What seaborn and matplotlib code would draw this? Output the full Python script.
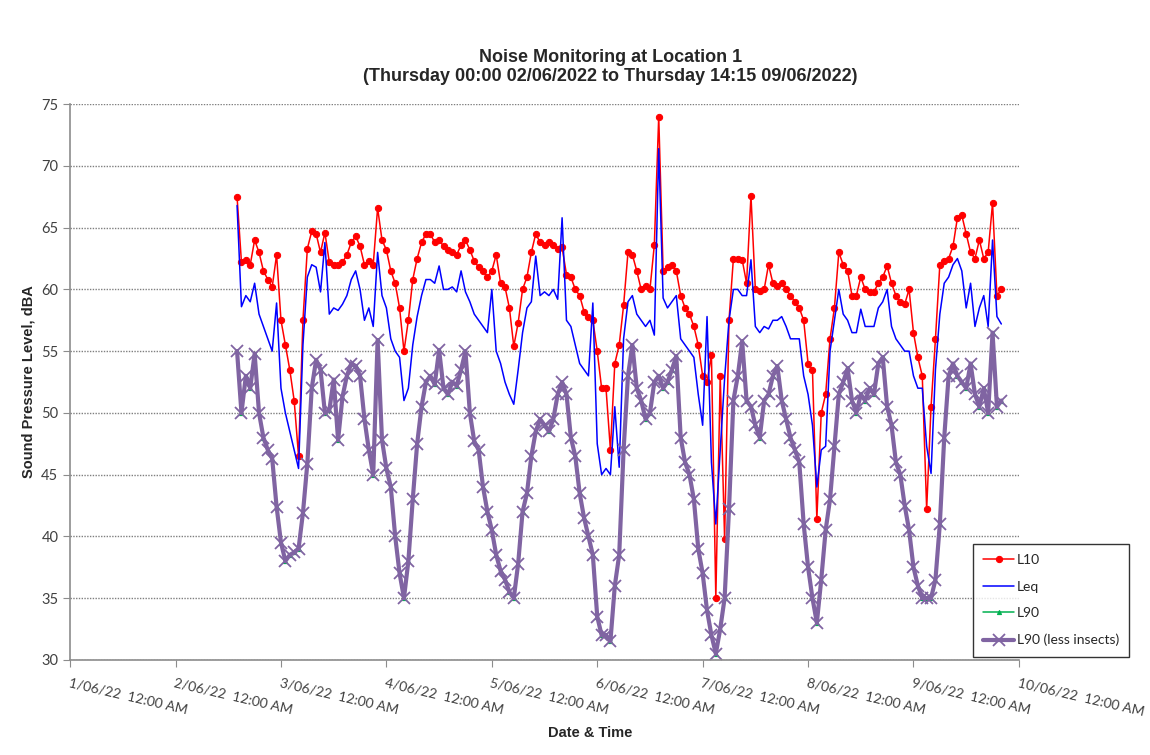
import pandas as pd
import matplotlib.pyplot as plt
import seaborn as sns

# hourly readings, 2/06 14:00 onwards
start_time = '2022-06-02 14:00'

l10 = [67.5, 62.2, 62.4, 62.0, 64.0, 63.0, 61.5, 60.8, 60.2, 62.8,
       57.5, 55.5, 53.5, 51.0, 46.5, 57.5, 63.3, 64.7, 64.5, 63.0,
       64.6, 62.2, 62.0, 62.0, 62.2, 62.8, 63.8, 64.3, 63.5, 62.0,
       62.3, 62.0, 66.6, 64.0, 63.2, 61.5, 60.5, 58.5, 55.0, 57.5,
       60.8, 62.5, 63.8, 64.5, 64.5, 63.8, 64.0, 63.5, 63.2, 63.0,
       62.8, 63.6, 64.0, 63.2, 62.3, 61.8, 61.5, 61.0, 61.5, 62.8,
       60.5, 60.2, 58.5, 55.4, 57.3, 60.0, 61.0, 63.0, 64.5, 63.8,
       63.6, 63.8, 63.6, 63.3, 63.4, 61.2, 61.0, 60.0, 59.5, 58.2,
       57.8, 57.5, 55.0, 52.0, 52.0, 47.0, 54.0, 55.5, 58.7, 63.0,
       62.8, 61.5, 60.0, 60.3, 60.0, 63.6, 74.0, 61.5, 61.8, 62.0,
       61.5, 59.5, 58.5, 58.0, 57.0, 55.5, 53.0, 52.5, 54.7, 35.0,
       53.0, 39.8, 57.5, 62.5, 62.5, 62.4, 60.5, 67.6, 60.0, 59.9,
       60.0, 62.0, 60.5, 60.3, 60.5, 60.0, 59.5, 59.0, 58.5, 57.5,
       54.0, 53.5, 41.4, 50.0, 51.5, 56.0, 58.5, 63.0, 62.0, 61.5,
       59.5, 59.5, 61.0, 60.0, 59.8, 59.8, 60.5, 61.0, 61.9, 60.5,
       59.5, 59.0, 58.8, 60.0, 56.5, 54.5, 53.0, 42.2, 50.5, 56.0,
       62.0, 62.3, 62.5, 63.5, 65.8, 66.0, 64.5, 63.0, 62.5, 64.0,
       62.5, 63.0, 67.0, 59.5, 60.0]

leq = [66.8, 58.6, 59.5, 59.0, 60.5, 58.0, 57.0, 56.0, 55.0, 58.9,
       52.0, 50.0, 48.5, 47.0, 45.5, 55.5, 61.0, 62.0, 61.8, 59.8,
       63.8, 58.0, 58.5, 58.3, 58.8, 59.5, 60.8, 61.5, 60.0, 57.5,
       58.5, 57.0, 63.0, 59.5, 58.5, 56.0, 55.0, 54.5, 51.0, 52.0,
       55.5, 57.8, 59.5, 60.8, 60.8, 60.5, 61.9, 60.0, 60.0, 60.2,
       59.8, 61.5, 59.8, 59.0, 58.0, 57.5, 57.0, 56.5, 60.0, 55.0,
       54.0, 52.5, 51.5, 50.7, 53.5, 56.5, 58.5, 59.0, 62.7, 59.5,
       59.8, 59.5, 60.0, 59.2, 65.8, 57.5, 57.0, 55.5, 54.0, 53.5,
       53.0, 58.9, 47.5, 45.0, 45.5, 45.0, 50.5, 45.6, 56.0, 59.0,
       59.5, 58.0, 57.5, 57.0, 57.5, 56.3, 71.4, 59.3, 58.5, 59.0,
       59.5, 56.0, 55.5, 55.0, 54.5, 51.5, 49.0, 57.8, 46.0, 41.0,
       47.0, 52.8, 57.5, 60.0, 60.0, 59.5, 59.5, 62.4, 57.0, 56.5,
       57.0, 56.8, 57.5, 57.5, 57.8, 57.0, 56.0, 56.0, 56.0, 53.0,
       51.5, 49.0, 44.0, 47.0, 47.3, 55.0, 57.5, 60.0, 58.0, 57.5,
       56.5, 56.5, 58.4, 57.0, 57.0, 57.0, 58.5, 59.0, 60.0, 57.0,
       56.0, 55.5, 55.0, 55.0, 53.0, 52.0, 52.0, 47.3, 45.1, 53.5,
       58.0, 60.5, 61.0, 62.0, 62.5, 61.5, 58.5, 60.5, 57.0, 58.5,
       59.5, 57.0, 64.0, 57.8, 57.2]

l90_less_insects = [55.0, 50.0, 53.0, 52.0, 54.8, 50.0, 48.0, 47.0, 46.3, 42.4,
                    39.5, 38.0, 38.5, 38.7, 39.0, 41.9, 45.9, 52.0, 54.3, 53.5,
                    50.0, 50.2, 52.7, 47.8, 51.3, 53.0, 54.0, 53.8, 53.0, 49.5,
                    47.0, 45.0, 55.9, 47.8, 45.5, 44.0, 40.0, 37.0, 35.0, 38.0,
                    43.0, 47.5, 50.5, 52.5, 53.0, 52.3, 55.1, 52.0, 51.5, 52.5,
                    52.2, 53.5, 55.0, 50.0, 47.7, 47.0, 44.0, 42.0, 40.5, 38.5,
                    37.2, 36.5, 35.5, 35.0, 37.8, 42.0, 43.5, 46.5, 48.5, 49.5,
                    49.0, 48.5, 49.5, 51.5, 52.5, 51.5, 48.0, 46.5, 43.5, 41.5,
                    40.0, 38.5, 33.5, 32.0, 32.0, 31.5, 36.0, 38.5, 47.0, 53.0,
                    55.5, 52.0, 51.0, 49.5, 50.0, 52.5, 53.0, 52.0, 52.5, 53.5,
                    54.6, 48.0, 46.0, 45.0, 43.0, 39.0, 37.0, 34.0, 32.0, 30.5,
                    32.5, 35.0, 42.2, 51.0, 53.0, 55.8, 51.0, 50.5, 49.0, 48.0,
                    51.0, 51.5, 53.0, 53.8, 51.0, 49.5, 48.0, 47.0, 46.0, 41.0,
                    37.5, 35.0, 33.0, 36.5, 40.5, 43.0, 47.3, 51.5, 52.5, 53.6,
                    51.0, 50.0, 51.5, 51.0, 52.0, 51.5, 54.0, 54.5, 50.5, 49.0,
                    46.0, 45.0, 42.5, 40.5, 37.5, 36.0, 35.0, 35.0, 35.0, 36.5,
                    41.0, 48.0, 53.0, 54.0, 53.0, 52.5, 52.0, 54.0, 51.5, 50.5,
                    52.0, 50.0, 56.5, 50.5, 51.0]

# the plain L90 series sits exactly under the "less insects" one
l90 = list(l90_less_insects)

tick_dates = ['2022-06-01', '2022-06-02', '2022-06-03', '2022-06-04', '2022-06-05',
              '2022-06-06', '2022-06-07', '2022-06-08', '2022-06-09', '2022-06-10']
tick_labels = ['1/06/22  12:00 AM', '2/06/22  12:00 AM', '3/06/22  12:00 AM',
               '4/06/22  12:00 AM', '5/06/22  12:00 AM', '6/06/22  12:00 AM',
               '7/06/22  12:00 AM', '8/06/22  12:00 AM', '9/06/22  12:00 AM',
               '10/06/22  12:00 AM']

times = pd.date_range(start_time, periods=len(l10), freq='h')
df = pd.DataFrame({'time': times, 'L10': l10, 'Leq': leq,
                   'L90': l90, 'L90 (less insects)': l90_less_insects})

sns.set_style('white')
plt.rcParams['font.family'] = ['Lato', 'DejaVu Sans']

fig, ax = plt.subplots(figsize=(11.5, 7.55), dpi=100)
fig.subplots_adjust(left=0.061, right=0.886, top=0.862, bottom=0.126)

sns.lineplot(data=df, x='time', y='L10', ax=ax, color='#FF0000', lw=1.1,
             marker='o', markersize=4.5, markeredgecolor='#FF0000', label='L10')
sns.lineplot(data=df, x='time', y='Leq', ax=ax, color='#0000FF', lw=1.1, label='Leq')
sns.lineplot(data=df, x='time', y='L90', ax=ax, color='#00B050', lw=1.1,
             marker='^', markersize=3, markeredgecolor='#00B050', label='L90')
sns.lineplot(data=df, x='time', y='L90 (less insects)', ax=ax, color='#8064A2', lw=3.0,
             marker='x', markersize=8, markeredgewidth=1.3, markeredgecolor='#8064A2',
             label='L90 (less insects)')

ax.set_ylim(30, 75)
ax.set_yticks(range(30, 80, 5))
ax.set_xlim(pd.Timestamp(tick_dates[0]), pd.Timestamp(tick_dates[-1]))
ax.set_xticks(pd.to_datetime(tick_dates))
ax.set_xticklabels(tick_labels, rotation=-13, ha='left', va='top',
                   rotation_mode='anchor', fontsize=10)

ax.yaxis.grid(True, color='#7f7f7f', linestyle=(0, (1, 1)), linewidth=1)
ax.xaxis.grid(False)
for side in ['top', 'right']:
    ax.spines[side].set_visible(False)
for side in ['left', 'bottom']:
    ax.spines[side].set_color('#8c8c8c')
    ax.spines[side].set_linewidth(1.2)
ax.tick_params(axis='both', direction='out', length=5, color='#8c8c8c',
               labelcolor='#404040', left=True, bottom=True)
ax.tick_params(axis='y', labelsize=10.5)
ax.tick_params(axis='x', pad=7)

ax.set_xlabel('')
ax.set_ylabel('Sound Pressure Level, dBA', fontsize=10.5, fontweight='bold',
              family='Liberation Sans', labelpad=4)
fig.text(0.513, 0.029, 'Date & Time', ha='center', va='center', fontsize=10.5,
         fontweight='bold', family='Liberation Sans')
fig.text(0.531, 0.911, 'Noise Monitoring at Location 1\n'
         '(Thursday 00:00 02/06/2022 to Thursday 14:15 09/06/2022)',
         ha='center', va='center', fontsize=13, fontweight='bold',
         family='Liberation Sans', linespacing=1.2)

leg = ax.legend(loc='lower left', bbox_to_anchor=(0.846, 0.130),
                bbox_transform=fig.transFigure, borderaxespad=0, frameon=True,
                fancybox=False, edgecolor='black', fontsize=10, labelspacing=1.05,
                handlelength=2.2, borderpad=0.75, handletextpad=0.2)
leg.get_frame().set_linewidth(1.0)

plt.savefig('out.png', dpi=100)
